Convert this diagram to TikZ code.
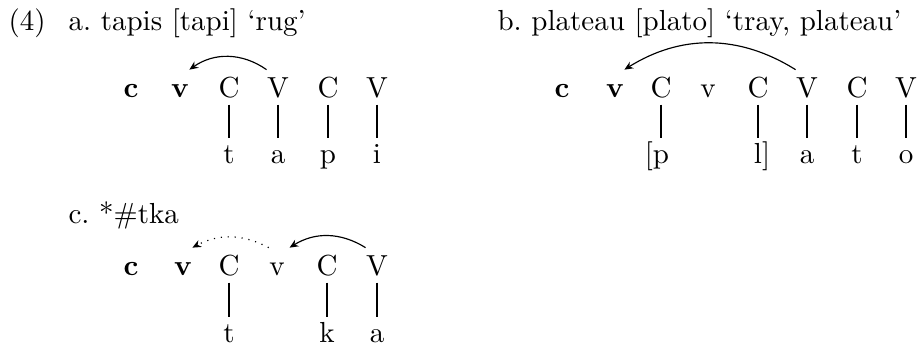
\documentclass[tikz,border=0pt]{standalone}
\usepackage{tikz}
\usetikzlibrary{arrows.meta}

\begin{document}
\begin{tikzpicture}[
  x=0.3448pt, y=-0.3448pt,
  title/.style={anchor=base west, inner sep=0pt},
  skel/.style={anchor=base, inner sep=0pt, text height=6.83pt, text depth=2.4pt},
  seg/.style={anchor=base, inner sep=0pt, text height=8.3pt, text depth=0pt},
  assoc/.style={line width=0.8pt},
  arrow/.style={-{Stealth[length=3pt,width=2.6pt]}},
  lift/.style={yshift=2.4pt}
]
\useasboundingbox (0,0) rectangle (917,347);
% titles
\node[title] (num) at (8,30) {(4)};
\node[title] (ta) at (68,30) {a.\ tapis [tapi] `rug'};
\node[title] (tb) at (497,30) {b.\ plateau [plato] `tray, plateau'};
\node[title] (tc) at (68,223) {c.\ *\#tka};
% (a) skeleton
\node[skel] (ac) at (131,97) {\textbf{c}};
\node[skel] (av) at (180,97) {\textbf{v}};
\node[skel] (aC1) at (229,97) {C};
\node[skel] (aV1) at (278,97) {V};
\node[skel] (aC2) at (328,97) {C};
\node[skel] (aV2) at (377,97) {V};
\node[seg] (at) at (229,163) {t};
\node[seg] (aa) at (278,163) {a};
\node[seg] (ap) at (328,163) {p};
\node[seg] (ai) at (377,163) {i};
\draw[assoc] (aC1.south) -- (at.north);
\draw[assoc] (aV1.south) -- (aa.north);
\draw[assoc] (aC2.south) -- (ap.north);
\draw[assoc] (aV2.south) -- (ai.north);
\draw[arrow] ([lift]aV1.north west) to[bend right=35] ([lift]av.north east);
% (b) skeleton
\node[skel] (bc) at (562,97) {\textbf{c}};
\node[skel] (bv) at (615,97) {\textbf{v}};
\node[skel] (bC1) at (661,97) {C};
\node[skel] (bv1) at (708,97) {v};
\node[skel] (bC2) at (758,97) {C};
\node[skel] (bV1) at (807,97) {V};
\node[skel] (bC3) at (857,97) {C};
\node[skel] (bV2) at (906,97) {V};
\node[seg] (bp) at (661,163) {\llap{[}p};
\node[seg] (bl) at (758,163) {l\rlap{]}};
\node[seg] (ba) at (807,163) {a};
\node[seg] (bt) at (857,163) {t};
\node[seg] (bo) at (906,163) {o};
\draw[assoc] (bC1.south) -- (bp.north);
\draw[assoc] (bC2.south) -- (bl.north);
\draw[assoc] (bV1.south) -- (ba.north);
\draw[assoc] (bC3.south) -- (bt.north);
\draw[assoc] (bV2.south) -- (bo.north);
\draw[arrow] ([lift]bV1.north west) to[bend right=32] ([lift]bv.north east);
% (c) skeleton
\node[skel] (cc) at (131,275) {\textbf{c}};
\node[skel] (cv) at (183,275) {\textbf{v}};
\node[skel] (cC1) at (229,275) {C};
\node[skel] (cv1) at (277,275) {v};
\node[skel] (cC2) at (327,275) {C};
\node[skel] (cV1) at (377,275) {V};
\node[seg] (ct) at (229,342) {t};
\node[seg] (ck) at (327,342) {k};
\node[seg] (ca) at (377,342) {a};
\draw[assoc] (cC1.south) -- (ct.north);
\draw[assoc] (cC2.south) -- (ck.north);
\draw[assoc] (cV1.south) -- (ca.north);
\draw[arrow] ([lift]cV1.north west) to[bend right=32] ([lift,xshift=1.5pt]cv1.north east);
\draw[arrow, dotted] ([lift]cv1.north west) to[bend right=28] ([lift]cv.north east);
\end{tikzpicture}
\end{document}
